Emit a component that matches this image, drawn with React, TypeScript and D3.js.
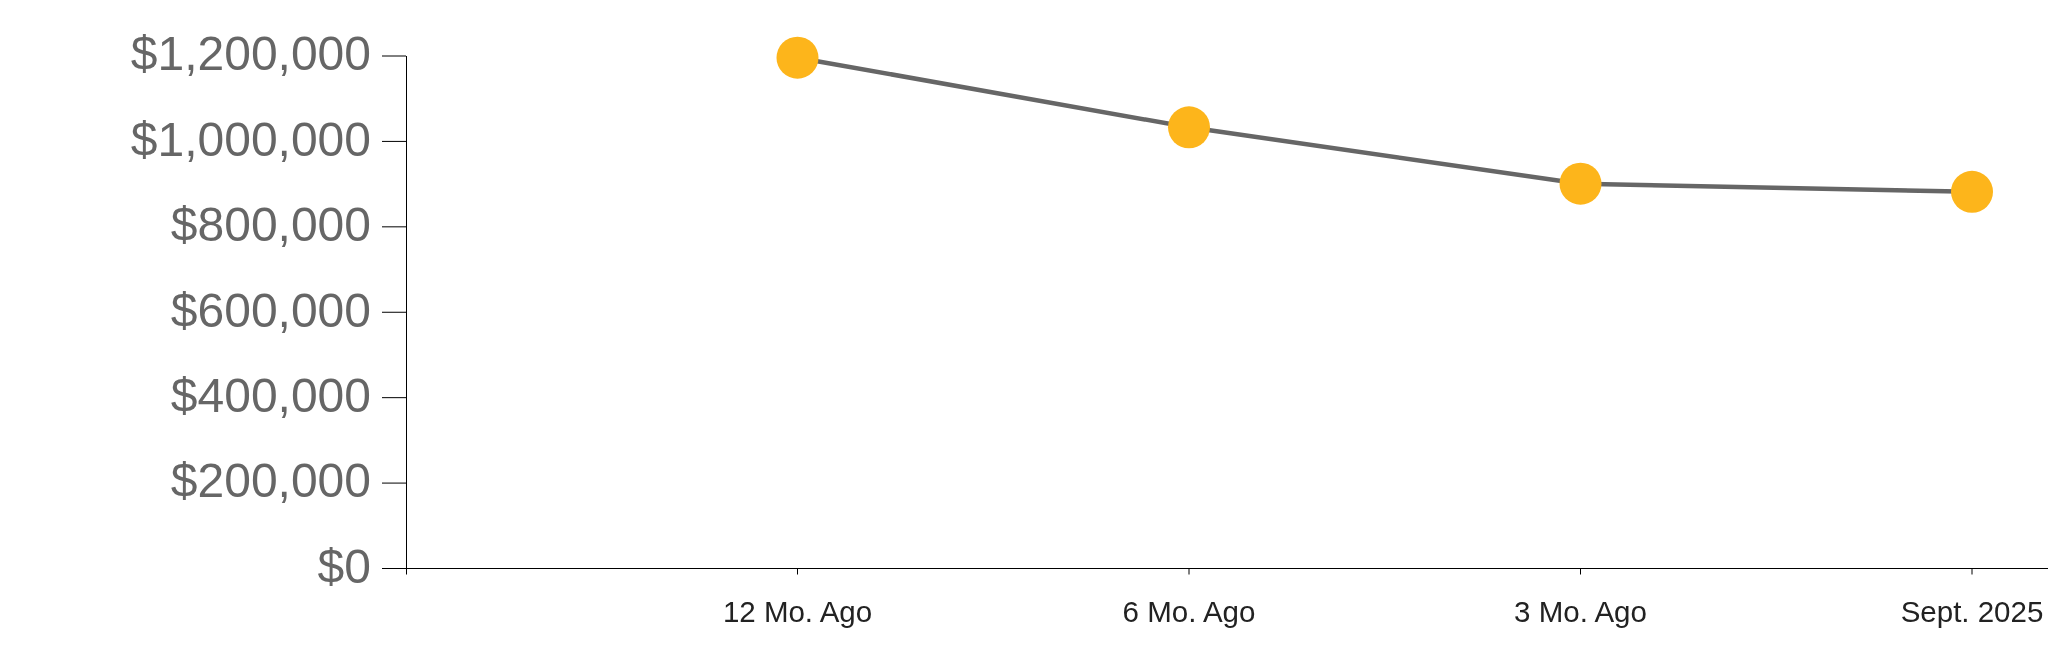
import React from "react";
import * as d3 from "d3";

const categories = ["12 Mo. Ago", "6 Mo. Ago", "3 Mo. Ago", "Sept. 2025"];
const values = [1196000, 1033000, 901000, 882000];
const yTicks = [0, 200000, 400000, 600000, 800000, 1000000, 1200000];

const W = 2048;
const H = 663;
const left = 406;
const step = 391.5;
const yBottom = 568.5;
const yTopPx = 56;

export default function App() {
  const x = d3
    .scalePoint<string>()
    .domain(categories)
    .range([left + step, left + step * categories.length]);
  const y = d3.scaleLinear().domain([0, 1200000]).range([yBottom, yTopPx]);
  const fmt = (v: number) => "$" + d3.format(",")(v);
  const line = d3
    .line<number>()
    .x((_, i) => x(categories[i]) as number)
    .y((d) => y(d));
  const font = "'Liberation Sans', Arial, Helvetica, sans-serif";

  return (
    <>
      <style>{"body{overflow:hidden;}"}</style>
      <svg
        width={W}
        height={H}
        style={{ display: "block", position: "fixed", left: 0, top: 0, overflow: "hidden" }}
        fontFamily={font}
      >
        {/* y axis */}
        <g>
          <line x1={left + 0.5} x2={left + 0.5} y1={y(1200000)} y2={yBottom} stroke="#000" strokeWidth={1} />
          {yTicks.map((t) => (
            <g key={t} transform={`translate(0,${y(t)})`}>
              <line x1={left - 24} x2={left} y1={0} y2={0} stroke="#000" strokeWidth={1} />
              <text x={left - 35} dy="0.3em" textAnchor="end" fontSize={48} fill="#666">
                {fmt(t)}
              </text>
            </g>
          ))}
        </g>
        {/* x axis */}
        <g>
          <line x1={left} x2={W} y1={yBottom} y2={yBottom} stroke="#000" strokeWidth={1} />
          <line x1={left + 0.5} x2={left + 0.5} y1={yBottom} y2={yBottom + 6} stroke="#000" strokeWidth={1} />
          {categories.map((c) => (
            <g key={c} transform={`translate(${x(c)},0)`}>
              <line x1={0} x2={0} y1={yBottom} y2={yBottom + 6} stroke="#000" strokeWidth={1} />
              <text y={yBottom + 33} dy="0.71em" textAnchor="middle" fontSize={29.5} fill="#222">
                {c}
              </text>
            </g>
          ))}
        </g>
        {/* line */}
        <path d={line(values) || ""} fill="none" stroke="#666" strokeWidth={4.5} />
        {values.map((v, i) => (
          <circle key={i} cx={x(categories[i])} cy={y(v)} r={21} fill="#FDB51B" />
        ))}
      </svg>
    </>
  );
}
